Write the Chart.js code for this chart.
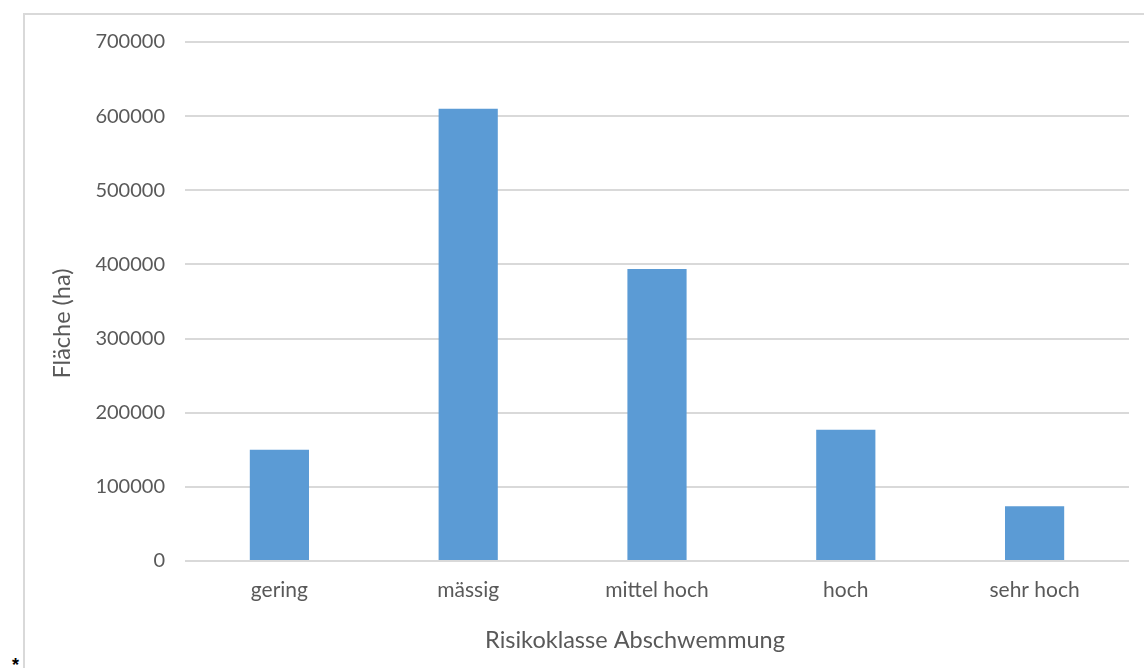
<!DOCTYPE html>
<html>
<head>
<meta charset="utf-8">
<script src="https://cdn.jsdelivr.net/npm/chart.js@4/dist/chart.umd.min.js"></script>
<style>
  html, body { margin: 0; padding: 0; background: #fff; overflow: hidden; }
  #frame {
    position: absolute; left: 23px; top: 13px;
    width: 1200px; height: 700px;
    border: 2px solid #d9d9d9;
  }
  #star {
    position: absolute; left: 12px; top: 655px;
    font: bold 18px "Liberation Sans", sans-serif; color: #000;
  }
  #wrap { position: absolute; left: 0; top: 0; width: 1144px; height: 668px; }
</style>
</head>
<body>
<div id="frame"></div>
<div id="star">*</div>
<div id="wrap"><canvas id="chart"></canvas></div>
<script>
const categories = ['gering', 'mässig', 'mittel hoch', 'hoch', 'sehr hoch']
const flaeche = [150000, 610000, 394000, 177000, 74000]
const yTicks = [0, 100000, 200000, 300000, 400000, 500000, 600000, 700000]

const xTitle = 'Risikoklasse Abschwemmung'
const yTitle = 'Fläche (ha)'

const textColor = '#595959'
const fontFamily = 'Lato, "Open Sans", sans-serif'

// Excel puts the axis titles a bit off the plot centre, so draw them ourselves
const axisTitles = {
  id: 'axisTitles',
  afterDraw(chart) {
    const { ctx, chartArea } = chart
    ctx.save()
    ctx.fillStyle = textColor
    ctx.font = `23.5px ${fontFamily}`
    ctx.textAlign = 'center'
    ctx.textBaseline = 'middle'
    ctx.fillText(xTitle, (chartArea.left + chartArea.right) / 2 - 22, 640)
    ctx.translate(62, (chartArea.top + chartArea.bottom) / 2 + 22)
    ctx.rotate(-Math.PI / 2)
    ctx.fillText(yTitle, 0, 0)
    ctx.restore()
  },
}

new Chart(document.getElementById('chart'), {
  type: 'bar',
  data: {
    labels: categories,
    datasets: [
      {
        label: yTitle,
        data: flaeche,
        backgroundColor: '#5b9bd5',
        borderWidth: 0,
        categoryPercentage: 1,
        barPercentage: 0.3135,
      },
    ],
  },
  options: {
    responsive: true,
    maintainAspectRatio: false,
    animation: false,
    layout: { padding: { left: 0, right: 15, top: 42, bottom: 0 } },
    plugins: {
      legend: { display: false },
      tooltip: { enabled: false },
    },
    scales: {
      x: {
        grid: { display: false, drawTicks: false },
        border: { display: false },
        ticks: {
          color: textColor,
          font: { family: fontFamily, size: 21 },
          padding: 17,
        },
        afterFit(scale) { scale.height = 107 },
      },
      y: {
        min: 0,
        max: yTicks[yTicks.length - 1],
        afterBuildTicks(scale) { scale.ticks = yTicks.map(v => ({ value: v })) },
        grid: { color: '#d9d9d9', lineWidth: 2, drawTicks: false },
        border: { display: false },
        ticks: {
          color: textColor,
          font: { family: fontFamily, size: 20 },
          padding: 20,
          callback: v => String(v),
        },
        afterFit(scale) { scale.width = 185 },
      },
    },
  },
  plugins: [axisTitles],
})
</script>
</body>
</html>
